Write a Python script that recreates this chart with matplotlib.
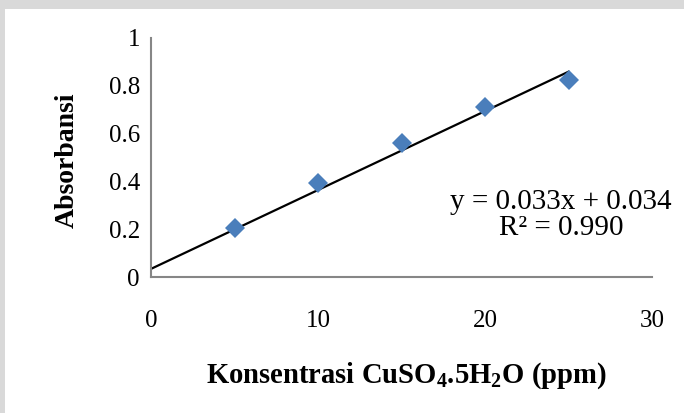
import numpy as np
import matplotlib
matplotlib.use("Agg")
import matplotlib.pyplot as plt
from matplotlib.patches import Rectangle

# data
konsentrasi = [5, 10, 15, 20, 25]
absorbansi = [0.205, 0.393, 0.561, 0.711, 0.824]

# trendline as printed on the chart
slope = 0.033
intercept = 0.034
r2 = 0.990

x_ticks = [0, 10, 20, 30]
y_ticks = [0, 0.2, 0.4, 0.6, 0.8, 1]
y_tick_labels = ["0", "0.2", "0.4", "0.6", "0.8", "1"]

plt.rcParams['font.family'] = ['Liberation Serif', 'DejaVu Serif']
plt.rcParams['mathtext.fontset'] = 'custom'
plt.rcParams['mathtext.rm'] = 'Liberation Serif'
plt.rcParams['mathtext.bf'] = 'Liberation Serif:bold'

W, H = 684, 413
fig = plt.figure(figsize=(W / 100, H / 100), dpi=100)
fig.patch.set_facecolor('#d9d9d9')
# white chart area
fig.patches.append(Rectangle((5 / W, 0), 1, 1 - 9 / H, transform=fig.transFigure,
                             facecolor='white', edgecolor='none', zorder=-10))

ax = fig.add_axes([151 / W, 1 - 277 / H, (652 - 151) / W, (277 - 38) / H])
ax.set_facecolor('none')
ax.set_zorder(1)

# trendline from x=0 to last point
xl = np.array([0, konsentrasi[-1]])
ax.plot(xl, slope * xl + intercept, color='black', lw=1.6, zorder=2)

ax.plot(konsentrasi, absorbansi, linestyle='none', marker='D', ms=10,
        color='#4a7ebb', markeredgewidth=0, zorder=3)

ax.set_xlim(0, 30)
ax.set_ylim(0, 1)
ax.set_xticks(x_ticks)
ax.set_xticklabels([str(t) for t in x_ticks])
ax.set_yticks(y_ticks)
ax.set_yticklabels(y_tick_labels)
ax.tick_params(axis='both', length=0, labelsize=18)
ax.tick_params(axis='x', pad=24)
ax.tick_params(axis='y', pad=8)

for s in ['top', 'right']:
    ax.spines[s].set_visible(False)
for s in ['left', 'bottom']:
    ax.spines[s].set_color('#868686')
    ax.spines[s].set_linewidth(1.5)

fig.text(561 / W, 1 - 215 / H,
         f"y = {slope:.3f}x + {intercept:.3f}\nR² = {r2:.3f}",
         ha='center', va='center', fontsize=21, linespacing=1.0, zorder=5)

fig.text(67 / W, 1 - 160 / H, "Absorbansi", rotation=90, ha='center',
         va='center', fontsize=20, fontweight='bold')
fig.text(406 / W, 1 - 376 / H, r"Konsentrasi CuSO$_\mathbf{4}$.5H$_\mathbf{2}$O (ppm)",
         ha='center', va='center', fontsize=20.6, fontweight='bold')

fig.savefig('out.png', dpi=100)
